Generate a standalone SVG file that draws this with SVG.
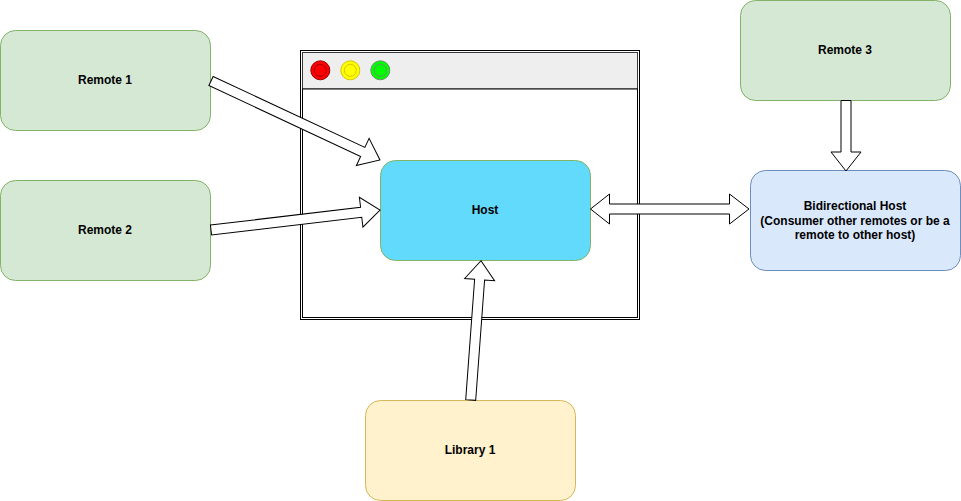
<svg xmlns="http://www.w3.org/2000/svg" width="961" height="501" viewBox="0 0 961 501">
<style>
.lbl{font-family:"Liberation Sans",Arial,Helvetica,sans-serif;font-size:12px;font-weight:bold;fill:#000;text-anchor:middle}
.green{fill:#d5e8d4;stroke:#82b366;stroke-width:1}
.arrow{fill:#fff;stroke:#000;stroke-width:1;stroke-linejoin:miter}
</style>
<rect x="0" y="0" width="961" height="501" fill="#fff"/>
<g id="browser">
<rect x="300.5" y="50.5" width="339" height="269" fill="#fff" stroke="#000"/>
<rect x="302.5" y="52.5" width="335" height="36.5" fill="#eeeeee" stroke="#36393d"/>
<rect x="302.5" y="89" width="335" height="228.5" fill="#fff" stroke="#000"/>
<circle cx="320.3" cy="70.3" r="9.5" fill="#ff0000" stroke="#990000"/>
<circle cx="320.3" cy="70.3" r="6" fill="none" stroke="#990000"/>
<circle cx="350.3" cy="70.3" r="9.5" fill="#ffff00" stroke="#d6c700"/>
<circle cx="350.3" cy="70.3" r="6" fill="none" stroke="#d6c700"/>
<circle cx="380.3" cy="70.3" r="9.5" fill="#00ff00" stroke="#6f8f6f"/>
<circle cx="380.3" cy="70.3" r="6" fill="none" stroke="#6f8f6f"/>
</g>
<g id="remote1">
<rect class="green" x="0.5" y="30.5" width="210" height="100" rx="15"/>
<text class="lbl" x="105" y="84">Remote 1</text>
</g>
<g id="remote2">
<rect class="green" x="0.5" y="180.5" width="210" height="100" rx="15"/>
<text class="lbl" x="105" y="234">Remote 2</text>
</g>
<g id="remote3">
<rect class="green" x="740.5" y="0.5" width="210" height="100" rx="15"/>
<text class="lbl" x="845" y="54">Remote 3</text>
</g>
<g id="host">
<rect x="380.5" y="160.5" width="210" height="100" rx="15" fill="#61dafb" stroke="#82b366"/>
<text class="lbl" x="485" y="214">Host</text>
</g>
<g id="bidirectional-host">
<rect x="750.5" y="170.5" width="210" height="100" rx="15" fill="#dae8fc" stroke="#6c8ebf"/>
<text class="lbl" x="855" y="210">Bidirectional Host</text>
<text class="lbl" x="855" y="224.5">(Consumer other remotes or be a</text>
<text class="lbl" x="855" y="239">remote to other host)</text>
</g>
<g id="library1">
<rect x="365.5" y="400.5" width="210" height="100" rx="15" fill="#fff2cc" stroke="#d6b656"/>
<text class="lbl" x="470" y="454">Library 1</text>
</g>
<g id="connectors">
<path class="arrow" transform="translate(211,81) rotate(25.05)" d="M0,-5 L167.5,-5 L167.5,-15 L186.5,0 L167.5,15 L167.5,5 L0,5 Z"/>
<path class="arrow" transform="translate(211,230) rotate(-6.75)" d="M0,-5 L151.2,-5 L151.2,-15 L170.2,0 L151.2,15 L151.2,5 L0,5 Z"/>
<path class="arrow" transform="translate(470.7,400) rotate(-85.77)" d="M0,-5 L120.7,-5 L120.7,-15 L139.7,0 L120.7,15 L120.7,5 L0,5 Z"/>
<path class="arrow" transform="translate(846,100.5) rotate(90)" d="M0,-5 L51.5,-5 L51.5,-15 L70.5,0 L51.5,15 L51.5,5 L0,5 Z"/>
<path class="arrow" d="M590.5,209 L609.5,194 L609.5,204 L729.5,204 L729.5,194 L749,209 L729.5,224 L729.5,214 L609.5,214 L609.5,224 Z"/>
</g>
</svg>
